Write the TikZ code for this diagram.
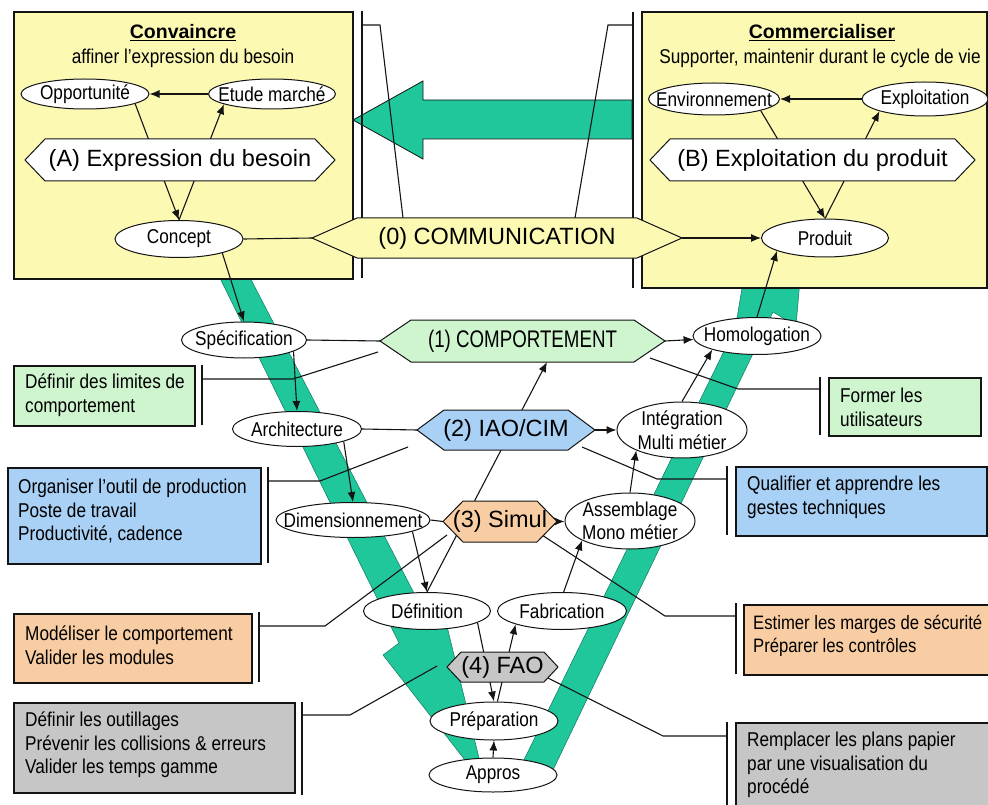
\documentclass[tikz,border=0pt]{standalone}
\usepackage{fontspec}
\setmainfont{Liberation Sans}[FakeStretch=0.86]
\newfontfamily\plainf{Liberation Sans}
\newfontfamily\condf{Liberation Sans}[FakeStretch=0.78]
\usetikzlibrary{shapes.geometric,arrows.meta,calc}
\pgfdeclarelayer{bg}
\pgfdeclarelayer{lines}
\pgfsetlayers{bg,lines,main}
\definecolor{vyel}{HTML}{FCF9B3}
\definecolor{vgreen}{HTML}{CFF5CF}
\definecolor{vblue}{HTML}{A9D0F5}
\definecolor{vorange}{HTML}{F9CDA3}
\definecolor{vgray}{HTML}{C6C6C6}
\definecolor{vteal}{HTML}{1FC79B}
\definecolor{linec}{HTML}{141414}
\newcommand\smf{\fontsize{20}{23.5}\selectfont}
\newcommand\smaf{\fontsize{19.4}{23.5}\selectfont}
\newcommand\bigf{\plainf\fontsize{23.5}{27}\selectfont}
\newcommand\hdrf{\plainf\bfseries\fontsize{19.5}{23}\selectfont}
\newcommand\compf{\condf\fontsize{24}{28}\selectfont}
\newcommand\ellnode[6]{%
  \node[ell, minimum width=#4, minimum height=#5] (#1) at (#2,#3) {};
  \node[lbl] (#1-t) at (#1) {#6};}
\newcommand\hexa[9]{%
  \filldraw[hexline, fill=#7] (#2-#4,#3-#5) -- (#2+#4,#3-#5) -- (#2+#4+#6,#3) -- (#2+#4,#3+#5) -- (#2-#4,#3+#5) -- (#2-#4-#6,#3) -- cycle;
  \node[inner sep=0pt, minimum width=2*#4, minimum height=2*#5, font=#8] (#1) at (#2,#3) {#9};
  \coordinate (#1-w) at (#2-#4-#6,#3);
  \coordinate (#1-e) at (#2+#4+#6,#3);}
\newcommand\annbox[6]{%
  \node[abox, fill=#6, minimum width=#4-#2, minimum height=#5-#3] (#1) at (#2,#3) {};}
\newcommand\annot[8]{%
  \draw[brk] (#2,#3) -- (#2,#4);
  \coordinate (#1-s) at (#2,#5);
  \coordinate (#1-k) at (#6,#5);
  \coordinate (#1-e) at (#7,#8);
  \draw[conn] (#1-s) -- (#1-k) -- (#1-e);}
\begin{document}
\begin{tikzpicture}[x=1pt,y=-1pt,
  ell/.style={ellipse, draw=linec, fill=white, line width=1pt, inner sep=0pt},
  lbl/.style={font=\smf, align=center, inner sep=0pt},
  conn/.style={draw=linec, line width=1.1pt},
  arr/.style={conn, -{Latex[length=10pt,width=8pt]}},
  brk/.style={draw=linec, line width=1.5pt},
  abox/.style={draw=linec, line width=1.8pt, anchor=north west, inner sep=0pt},
  hexline/.style={draw=linec, line width=1pt},
  band/.style={fill=vteal, draw=vteal!60!black, line width=0.5pt},
  btxt/.style={font=\smf, align=left, anchor=west, inner sep=0pt},
]
\useasboundingbox (0,0) rectangle (988,805);
\begin{pgfonlayer}{bg}
  \path[band] (216,270) -- (246,270) -- (428,620) -- (446,622) -- (486,787) -- (383,655) -- (399,643) -- cycle;
  \path[band] (519,770) -- (553,770) -- (773,312) -- (796,326) -- (800,280) -- (790,240) -- (745,260) -- (742,288) -- (737,318) -- (722,335) -- (728,343) -- cycle;
  \filldraw[fill=vteal, draw=linec, line width=0.8pt] (353,120) -- (423,81) -- (423,100) -- (632,100) -- (632,139) -- (423,139) -- (423,159) -- cycle;
  \node[abox, fill=vyel, minimum width=339, minimum height=267] (boxA) at (13,11) {};
  \node[abox, fill=vyel, minimum width=345, minimum height=276] (boxB) at (641,11) {};
\end{pgfonlayer}

% headers
\node[font=\hdrf] (tA) at (183,33) {\underline{Convaincre}};
\node[font=\smf] (sA) at (183,58) {affiner l’expression du besoin};
\node[font=\hdrf] (tB) at (822,33) {\underline{Commercialiser}};
\node[font=\smf] (sB) at (820,58) {Supporter, maintenir durant le cycle de vie};

% hexagons
\hexa{hA}{180}{160}{135}{21}{20}{white}{\bigf}{(A) Expression du besoin}
\hexa{hB}{812.5}{160}{142.5}{21}{20}{white}{\bigf}{(B) Exploitation du produit}
\hexa{comm}{497}{238}{140}{20}{45}{vyel}{\bigf}{(0) COMMUNICATION}
\hexa{comp}{522.5}{341}{111.5}{21}{31}{vgreen}{\compf}{(1) COMPORTEMENT}
\hexa{iao}{506}{430}{62}{20}{27}{vblue}{\bigf}{(2) IAO/CIM}
\hexa{simul}{500}{521.5}{37}{20.5}{20}{vorange}{\bigf}{(3) Simul}
\hexa{fao}{502.5}{667}{41.5}{15}{14}{vgray}{\bigf}{(4) FAO}

% ellipses
\ellnode{opp}{85}{94}{128}{30}{Opportunité}
\ellnode{etude}{272}{94}{127}{30}{Etude marché}
\ellnode{concept}{179}{239}{128}{37}{Concept}
\ellnode{env}{714}{99}{131}{32}{Environnement}
\ellnode{expl}{925}{99}{126}{34}{Exploitation}
\ellnode{prod}{825}{238}{127}{38}{Produit}
\ellnode{spec}{244}{340}{125}{36}{Spécification}
\ellnode{arch}{297}{429}{129}{35}{Architecture}
\ellnode{dim}{353}{520}{154}{35}{Dimensionnement}
\ellnode{def}{427}{611}{127}{37}{Définition}
\ellnode{fab}{562}{611}{129}{37}{Fabrication}
\ellnode{prep}{494}{721}{128}{38}{Préparation}
\ellnode{appros}{493}{775}{128}{34}{Appros}
\ellnode{assem}{630}{521}{130}{56}{Assemblage\\Mono métier}
\ellnode{integ}{682}{430}{130}{56}{Intégration\\Multi métier}
\ellnode{homol}{757}{336}{128}{37}{Homologation}

% annotation boxes
\annbox{bx1}{13}{365}{194}{425}{vgreen}
\node[btxt] (bx1-t) at (25,395) {Définir des limites de\\comportement};
\annbox{bx2}{7}{467}{260}{563}{vblue}
\node[btxt] (bx2-t) at (18,511.5) {Organiser l’outil de production\\Poste de travail\\Productivité, cadence};
\annbox{bx3}{13}{613}{251}{682}{vorange}
\node[btxt] (bx3-t) at (25,645) {Modéliser le comportement\\Valider les modules};
\annbox{bx4}{13}{702}{294}{792}{vgray}
\node[btxt] (bx4-t) at (25,745) {Définir les outillages\\Prévenir les collisions \& erreurs\\Valider les temps gamme};
\annbox{bx5}{828}{377}{980}{435}{vgreen}
\node[btxt] (bx5-t) at (840,407.5) {Former les\\utilisateurs};
\annbox{bx6}{735}{466}{986}{535}{vblue}
\node[btxt] (bx6-t) at (747,497.5) {Qualifier et apprendre les\\gestes techniques};
\annbox{bx7}{743}{604}{995}{674}{vorange}
\node[btxt, font=\smaf] (bx7-t) at (753,636) {Estimer les marges de sécurité\\Préparer les contrôles};
\annbox{bx8}{735}{722}{995}{815}{vgray}
\node[btxt] (bx8-t) at (747,765) {Remplacer les plans papier\\par une visualisation du\\procédé};

\begin{pgfonlayer}{lines}
  \draw[arr] (etude) -- (opp);
  \draw[arr] (opp.-11) -- (concept.north);
  \draw[arr] (concept.north) -- (etude.-168);
  \draw[arr] (expl) -- (env);
  \draw[arr] (env.-14) -- (prod.north);
  \draw[arr] (prod.north) -- (expl.-165);
  \draw[conn] (concept.east) -- (comm-w);
  \draw[arr] (comm-e) -- (prod.west);
  \draw[arr] (concept.-18) -- (spec.north);
  \draw[conn] (spec.east) -- (comp-w);
  \draw[arr] (spec.-13) -- (arch.north);
  \draw[conn] (arch.east) -- (iao-w);
  \draw[arr] (arch.-15) -- (dim.north);
  \draw[conn] (dim.east) -- (simul-w);
  \draw[arr] (dim.-11) -- (def.north);
  \coordinate (compB) at (547,362);
  \draw[arr] (def.north) -- (compB);
  \draw[arr] (def.-13) -- (prep.north);
  \draw[arr] (prep.80) -- (fab.-164);
  \draw[arr] (appros.north) -- (prep.south);
  \draw[arr] (fab.85) -- (assem.-158);
  \draw[arr] (assem.north) -- (integ.-156);
  \draw[arr] (integ.north) -- (homol.-163);
  \draw[arr] (homol.north) -- (prod.-165);
  \draw[arr] (comp-e) -- (homol);
  \draw[arr] (iao-e) -- (integ);
  \draw[arr] (simul-e) -- (assem);
  % annotation brackets and connectors
  \annot{aA}{362}{11}{278}{25}{380}{403}{218}
  \annot{aB}{633}{12}{288}{25}{608}{575}{218}
  \annot{a1}{202}{365}{425}{379}{293}{378}{352}
  \annot{a2}{268}{467}{563}{481}{320}{408}{447}
  \annot{a3}{259}{612}{682}{626}{325}{447}{535}
  \annot{a4}{302}{702}{795}{715}{350}{437}{666}
  \annot{a5}{820}{377}{435}{389}{738}{650}{358}
  \annot{a6}{727}{466}{535}{479}{657}{582}{447}
  \annot{a7}{736}{603}{674}{616}{665}{542}{535}
  \annot{a8}{727}{722}{805}{736}{663}{548}{678}
\end{pgfonlayer}
\end{tikzpicture}
\end{document}
